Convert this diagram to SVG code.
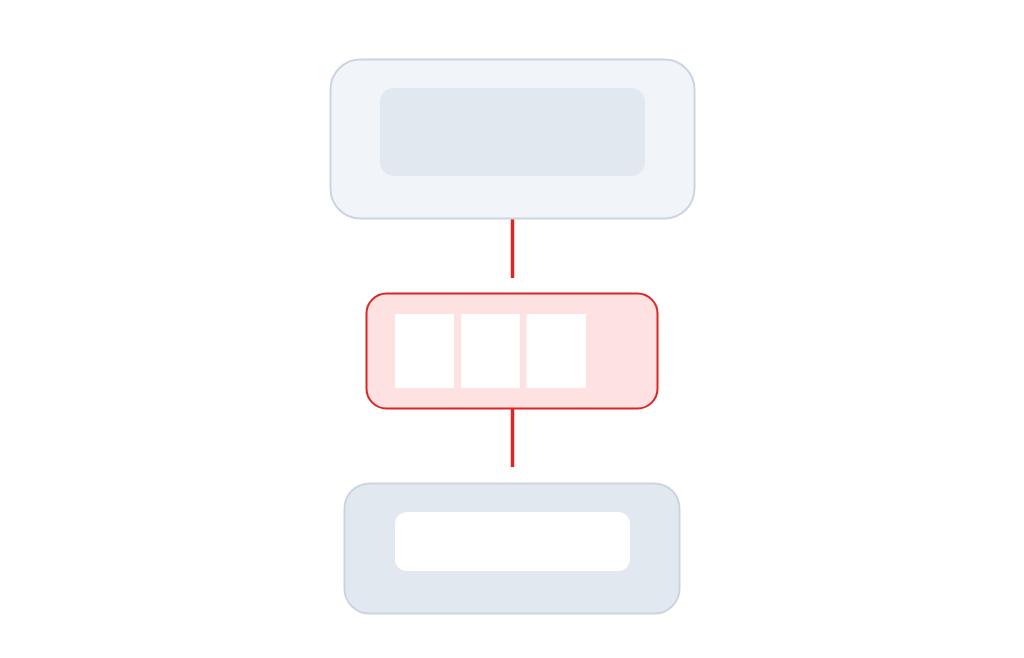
<svg xmlns="http://www.w3.org/2000/svg" width="1024" height="658" viewBox="0 0 1024 658">
<style>
.outer{stroke:#cbd5e1;stroke-width:2}
.conn{stroke:#dc2626;stroke-width:3.5;fill:none}
.cell{fill:#ffffff}
</style>
<rect width="1024" height="658" fill="#ffffff"/>
<g id="connectors">
<line class="conn" x1="512.5" y1="218" x2="512.5" y2="278"/>
<line class="conn" x1="512.5" y1="409" x2="512.5" y2="467"/>
</g>
<g id="top-node">
<rect class="outer" x="330.5" y="59.5" width="364" height="159" rx="30" fill="#f1f5f9"/>
<rect x="380" y="88" width="265" height="88" rx="14" fill="#e2e8f0"/>
</g>
<g id="middle-node">
<rect x="366.5" y="293.5" width="291" height="115" rx="20" fill="#fee2e2" stroke="#dc2626" stroke-width="2"/>
<rect class="cell" x="395" y="314" width="59" height="74"/>
<rect class="cell" x="461" y="314" width="59" height="74"/>
<rect class="cell" x="526.5" y="314" width="59.5" height="74"/>
</g>
<g id="bottom-node">
<rect class="outer" x="344.5" y="483.5" width="335" height="130" rx="25" fill="#e2e8f0"/>
<rect x="395" y="512" width="235" height="59" rx="12" fill="#ffffff"/>
</g>
</svg>
